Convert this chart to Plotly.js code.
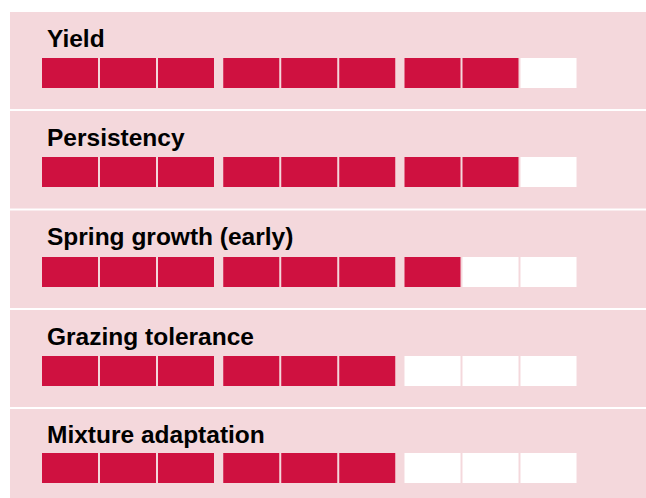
<!DOCTYPE html>
<html>
<head>
<meta charset="utf-8">
<script src="https://cdn.plot.ly/plotly-3.0.1.min.js"></script>
<style>html,body{margin:0;padding:0;background:#fff;}#chart{width:646px;height:498px;}</style>
</head>
<body>
<div id="chart"></div>
<script>
// ---- data ----
const categories = ["Yield", "Persistency", "Spring growth (early)", "Grazing tolerance", "Mixture adaptation"];
const scores = [8, 8, 7, 6, 6];
const maxScore = 9;
const groupSize = 3;

// ---- style / layout ----
const W = 646, H = 498;
const fillColor = "#CF1140";
const emptyColor = "#FFFFFF";
const panelColor = "#F4D8DC";
const groupGap = 0.125;
// panel geometry in pixels: [top, bottom, blockTop, blockBottom, titleMid]
const panels = [
  [12, 109, 58, 88, 38],
  [111, 208.5, 157, 187, 137.5],
  [210.5, 308, 257, 287, 237],
  [310, 407, 356, 386, 336.5],
  [409, 498, 453, 483, 434.5]
];

const slots = Array.from({length: maxScore}, (_, j) => j);
const xpos = slots.map(j => j + groupGap * Math.floor(j / groupSize));

const traces = [];
const layout = {
  width: W, height: H,
  margin: {l: 0, r: 0, t: 0, b: 0},
  paper_bgcolor: "#FFFFFF",
  plot_bgcolor: panelColor,
  showlegend: false,
  hovermode: false,
  annotations: []
};

const xStart = 10 / W;
const unitPx = 58;
const r0 = -60 / unitPx;
const r1 = r0 + (W - 10) / unitPx;

categories.forEach((cat, i) => {
  const [T, B, bt, bb, tm] = panels[i];
  const n = i + 1;
  const xa = n === 1 ? "x" : "x" + n;
  const ya = n === 1 ? "y" : "y" + n;
  traces.push({
    type: "bar",
    x: xpos,
    y: slots.map(() => 1),
    width: 56 / unitPx,
    marker: {color: slots.map(j => j < scores[i] ? fillColor : emptyColor), line: {width: 0}},
    xaxis: xa, yaxis: ya,
    hoverinfo: "skip"
  });
  const v = p => (bb - p) / (bb - bt);
  layout[n === 1 ? "xaxis" : "xaxis" + n] = {
    domain: [xStart, 1], range: [r0, r1], anchor: ya,
    showgrid: false, zeroline: false, showticklabels: false, ticks: "", showline: false, fixedrange: true
  };
  layout[n === 1 ? "yaxis" : "yaxis" + n] = {
    domain: [1 - B / H, 1 - T / H], range: [v(B), v(T)], anchor: xa,
    showgrid: false, zeroline: false, showticklabels: false, ticks: "", showline: false, fixedrange: true
  };
  layout.annotations.push({
    text: cat, xref: "paper", yref: "paper",
    x: 45 / W, y: 1 - tm / H, xanchor: "left", yanchor: "middle",
    showarrow: false,
    font: {family: "Liberation Sans, Arial, sans-serif", size: 24.5, color: "#000000", weight: "bold"}
  });
});

Plotly.newPlot("chart", traces, layout, {displayModeBar: false, staticPlot: true});
</script>
</body>
</html>
